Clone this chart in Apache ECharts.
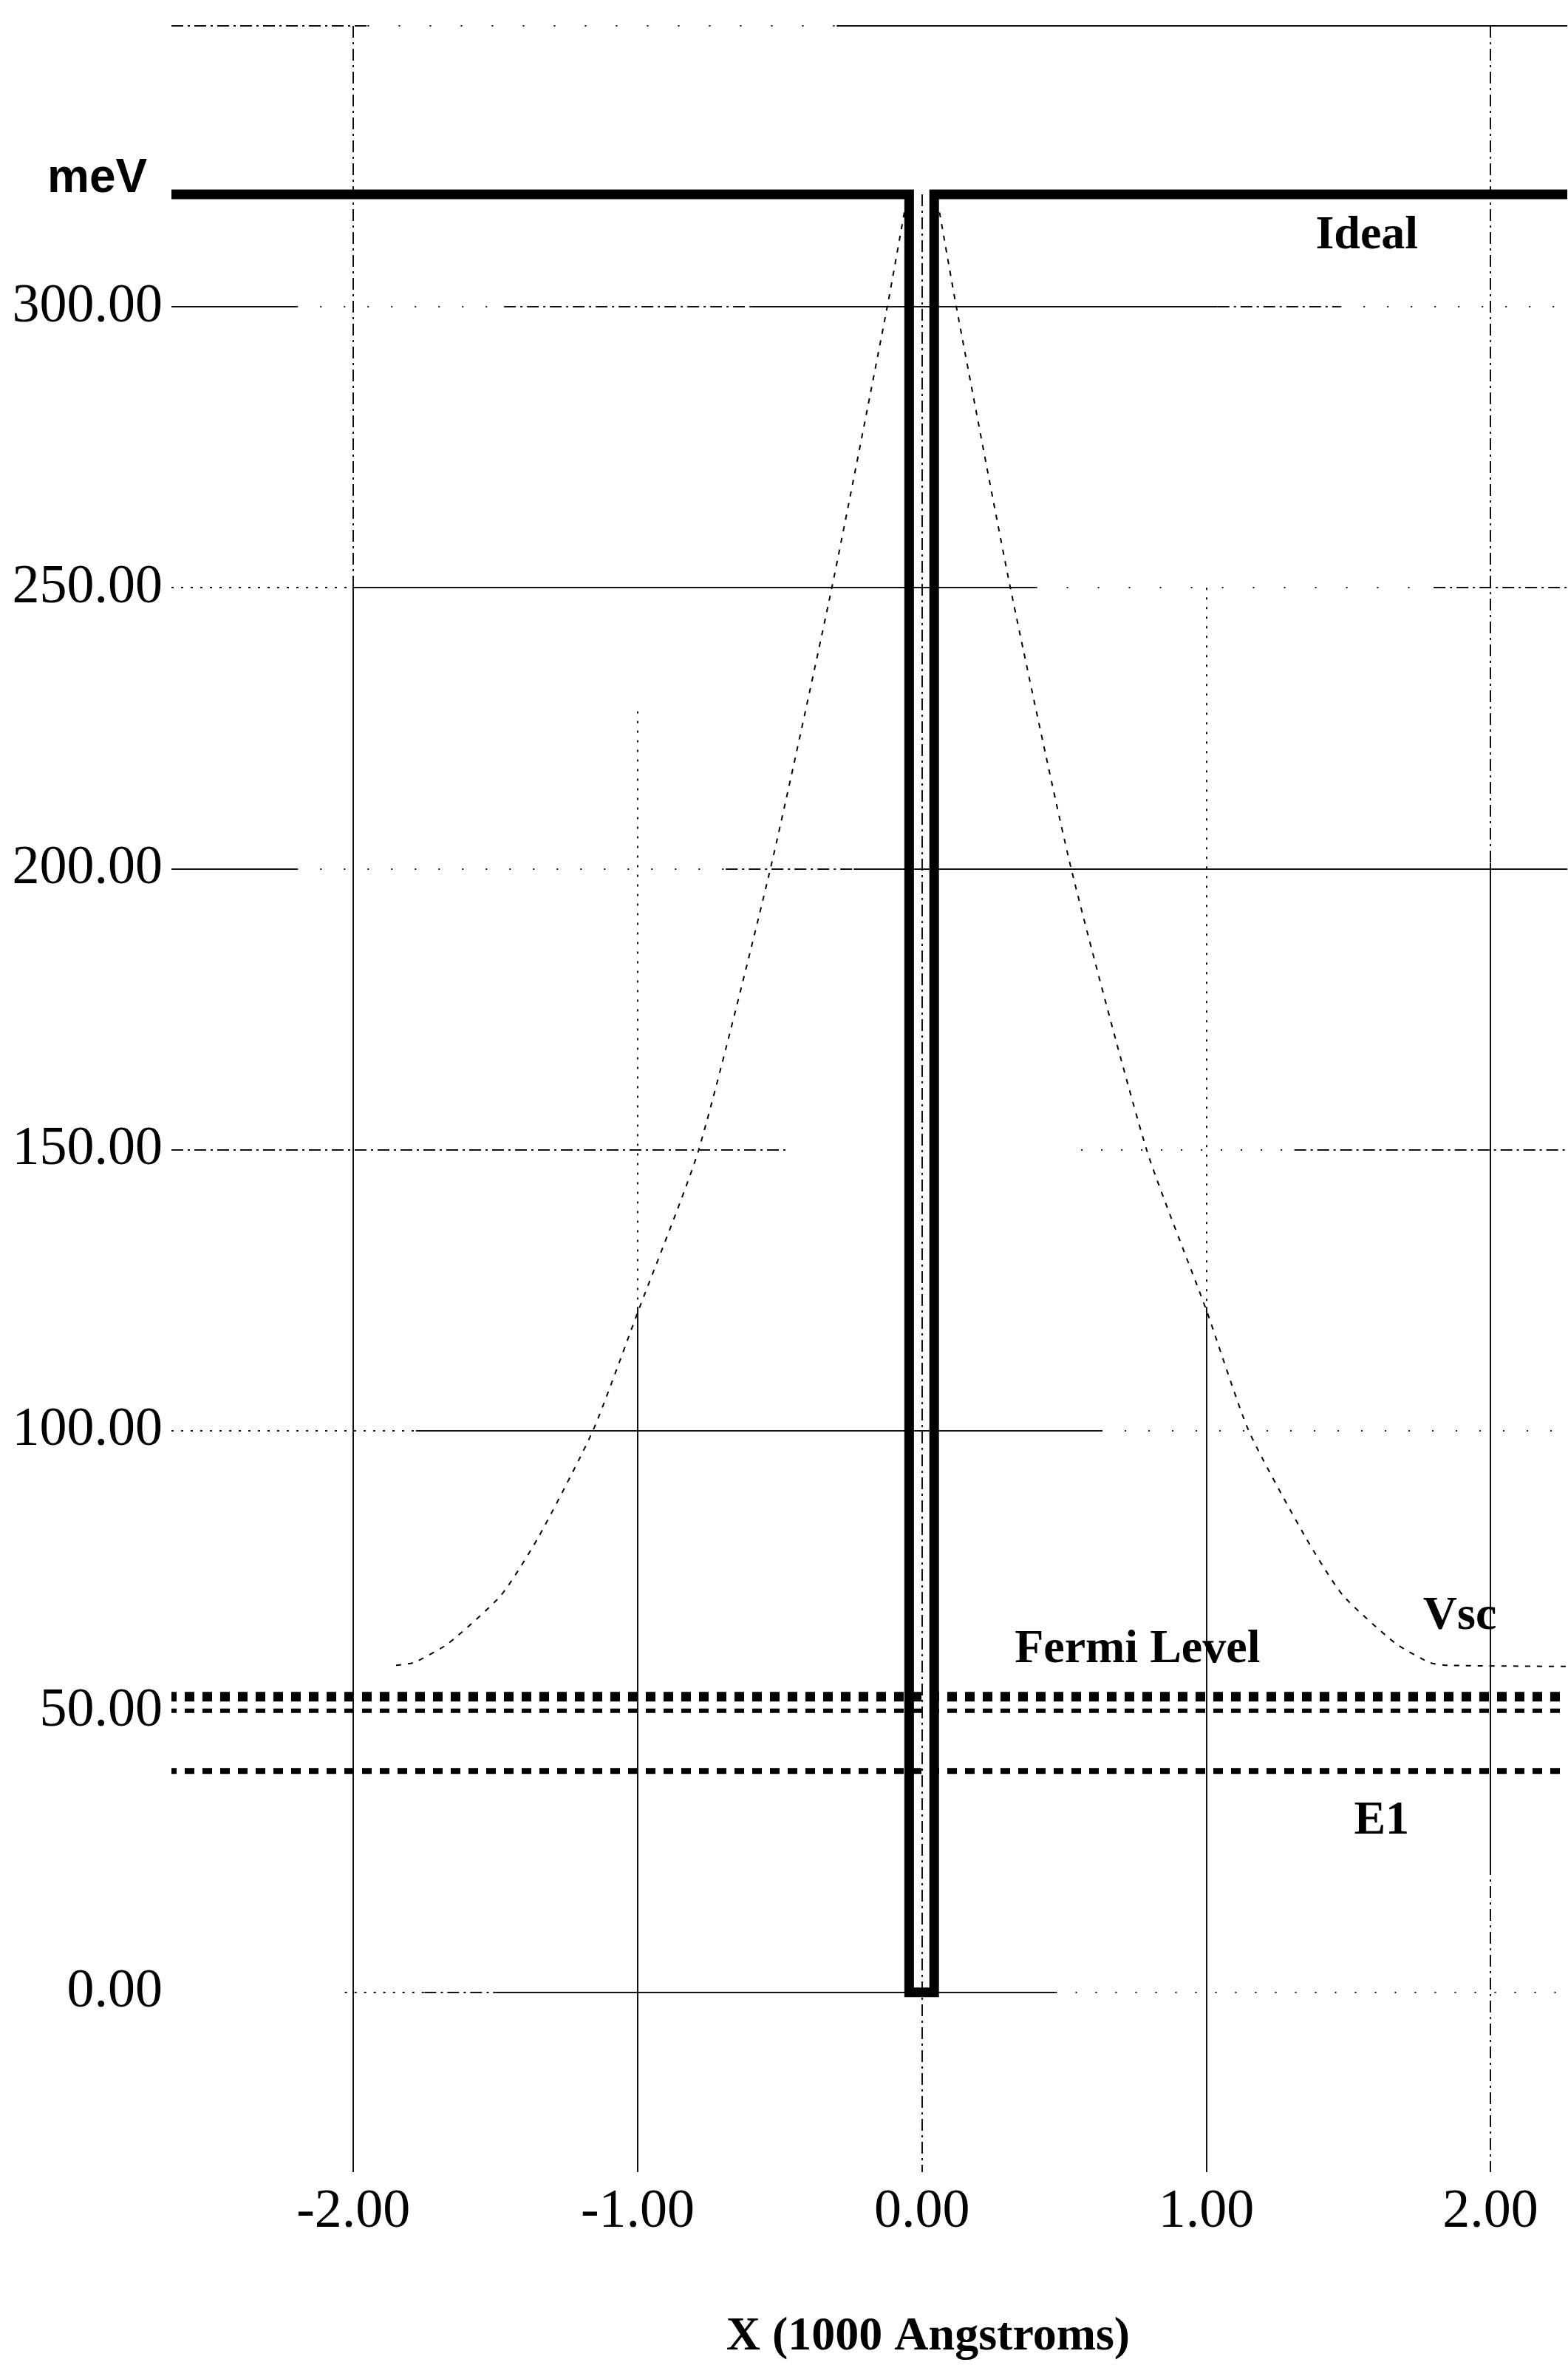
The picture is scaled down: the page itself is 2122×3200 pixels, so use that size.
<!DOCTYPE html>
<html><head><meta charset="utf-8">
<script src="https://cdn.jsdelivr.net/npm/echarts@6/dist/echarts.min.js"></script>
<style>html,body{margin:0;padding:0;background:#fff}#c{width:2122px;height:3200px}</style>
</head><body><div id="c"></div>
<script>
// ---------------- data ----------------
const yTickValues = [0, 50, 100, 150, 200, 250, 300];
const xTickValues = [-2, -1, 0, 1, 2];

// Ideal quantum-well profile (meV vs 1000 Angstrom)
const idealX = [-2.64, -0.045, -0.045, 0.043, 0.043, 2.27];
const idealY = [320, 320, 0, 0, 320, 320];

// Self-consistent potential Vsc (gap hidden behind the well walls)
const vscX = [-1.85, -1.786, -1.666, -1.48, -1.348, -1.157, -1.0, -0.785, -0.533, -0.317, -0.122, -0.062, 0,
              0.062, 0.121, 0.311, 0.525, 0.79, 1.0, 1.149, 1.348, 1.48, 1.666, 1.786, 1.85, 2.27];
const vscY = [58.2, 58.7, 62.1, 70.7, 81.1, 100, 121, 150, 200, 250, 300, 316.8, '-',
              316.8, 300, 250, 200, 150, 121.5, 100, 81.1, 70.7, 62.1, 58.7, 58.2, 58];

// Horizontal levels
const levelX = [-2.64, 2.27];
const fermiY = [52.6, 52.6];
const fermi2Y = [50.1, 50.1];
const e1Y = [39.4, 39.4];

// annotation texts
const annoNames = ['Ideal', 'Fermi Level', 'Vsc', 'E1'];

// ---------------- layout / style ----------------
const xMin = -2.64, xMax = 2.27, yMin = -32, yMax = 350;
const annoPos = [[1.565, 312.6], [0.758, 60.9], [1.892, 66.9], [1.617, 30.4]];
const DD = [16, 6, 3, 6], DOT = [3, 10], S = 'solid';
// gridline segments (layout of the scanned grid): [x1,y1,x2,y2,type]
const gridSegs = [
  // top frame
  [-2.64, 350, -1.95, 350, DD], [-1.95, 350, -0.3, 350, [2, 40]], [-0.3, 350, 2.27, 350, S],
  // verticals
  [-2, 350, -2, 251, DD], [-2, 251, -2, yMin, S],
  [-1, 228, -1, 122, DOT], [-1, 122, -1, yMin, S],
  [0, 320, 0, yMin, DD],
  [1, 250, 1, 122, DOT], [1, 122, 1, yMin, S],
  [2, 350, 2, 201, DD], [2, 201, 2, 23, S], [2, 23, 2, yMin, DD],
  // 300
  [-2.64, 300, -2.2, 300, S], [-2.2, 300, -1.47, 300, [2, 30]], [-1.47, 300, -0.6, 300, DD],
  [-0.6, 300, 1.04, 300, S], [1.04, 300, 1.47, 300, DD], [1.47, 300, 2.27, 300, [2, 30]],
  // 250
  [-2.64, 250, -2.0, 250, DOT], [-2.0, 250, 0.4, 250, S], [0.4, 250, 1.8, 250, [2, 40]], [1.8, 250, 2.27, 250, DD],
  // 200
  [-2.64, 200, -2.2, 200, S], [-2.2, 200, -0.69, 200, [2, 30]], [-0.69, 200, -0.24, 200, DD], [-0.24, 200, 2.27, 200, S],
  // 150
  [-2.64, 150, -0.48, 150, DD], [0.56, 150, 1.31, 150, [2, 25]], [1.31, 150, 2.27, 150, DD],
  // 100
  [-2.64, 100, -1.78, 100, DOT], [-1.78, 100, 0.63, 100, S], [0.63, 100, 2.27, 100, [2, 30]],
  // 0
  [-2.03, 0, -1.75, 0, DOT], [-1.75, 0, -1.5, 0, DD], [-1.5, 0, 0.47, 0, S], [0.47, 0, 2.27, 0, [2, 25]]
];

const pair = (xs, ys) => xs.map((x, i) => [x, ys[i]]);
const serif = '"Liberation Serif", "Times New Roman", serif';

const chart = echarts.init(document.getElementById('c'), null, { renderer: 'canvas' });
chart.setOption({
  backgroundColor: '#ffffff',
  animation: false,
  grid: { left: 232, top: 35, width: 1889, height: 2904 },
  xAxis: {
    type: 'value', min: xMin, max: xMax,
    axisLine: { show: false }, axisTick: { show: false }, splitLine: { show: false },
    axisLabel: {
      customValues: xTickValues, formatter: v => Number(v).toFixed(2),
      fontFamily: serif, fontSize: 74, color: '#000', margin: 18
    }
  },
  yAxis: {
    type: 'value', min: yMin, max: yMax,
    axisLine: { show: false }, axisTick: { show: false }, splitLine: { show: false },
    axisLabel: {
      customValues: yTickValues, formatter: v => Number(v).toFixed(2),
      fontFamily: serif, fontSize: 74, color: '#000', margin: 12,
      padding: [0, 0, 28, 0]
    }
  },
  graphic: [
    { type: 'text', x: 64, y: 242, style: { text: 'meV', fontFamily: '"Liberation Sans", Arial, sans-serif', fontWeight: 'bold', fontSize: 64, fill: '#000', align: 'left', verticalAlign: 'middle' } },
    { type: 'text', x: 1256, y: 3162, style: { text: 'X (1000 Angstroms)', fontFamily: serif, fontWeight: 'bold', fontSize: 64, fill: '#000', align: 'center', verticalAlign: 'middle' } }
  ],
  series: [
    {
      name: 'grid', type: 'line', z: 1, data: [[xMin, yMin]], symbol: 'none', silent: true,
      lineStyle: { width: 0 },
      markLine: {
        silent: true, symbol: ['none', 'none'], animation: false,
        label: { show: false },
        lineStyle: { color: '#111', width: 2 },
        data: gridSegs.map(s => [{ coord: [s[0], s[1]], lineStyle: { type: s[4], color: '#111', width: 2 } }, { coord: [s[2], s[3]] }])
      }
    },
    {
      name: 'Vsc', type: 'line', z: 3, data: pair(vscX, vscY), symbol: 'none', smooth: 0.2, connectNulls: false,
      lineStyle: { color: '#000', width: 2, type: [7, 9] }
    },
    {
      name: 'Fermi Level', type: 'line', z: 4, data: pair(levelX, fermiY), symbol: 'none',
      lineStyle: { color: '#000', width: 13, type: [13, 11], dashOffset: 6 }
    },
    {
      name: 'Fermi Level 2', type: 'line', z: 4, data: pair(levelX, fermi2Y), symbol: 'none',
      lineStyle: { color: '#000', width: 6, type: [13, 11], dashOffset: 6 }
    },
    {
      name: 'E1', type: 'line', z: 4, data: pair(levelX, e1Y), symbol: 'none',
      lineStyle: { color: '#000', width: 8, type: [13, 11], dashOffset: 6 }
    },
    {
      name: 'Ideal', type: 'line', z: 5, data: pair(idealX, idealY), symbol: 'none',
      lineStyle: { color: '#000', width: 13, join: 'miter', cap: 'butt' },
      markPoint: {
        silent: true, symbol: 'rect', symbolSize: 1,
        itemStyle: { color: 'rgba(0,0,0,0)' },
        label: { show: true, position: 'inside', formatter: '{b}', fontFamily: serif, fontWeight: 'bold', fontSize: 64, color: '#000' },
        data: annoNames.map((n, i) => ({ name: n, coord: annoPos[i] }))
      }
    }
  ]
});
</script></body></html>
